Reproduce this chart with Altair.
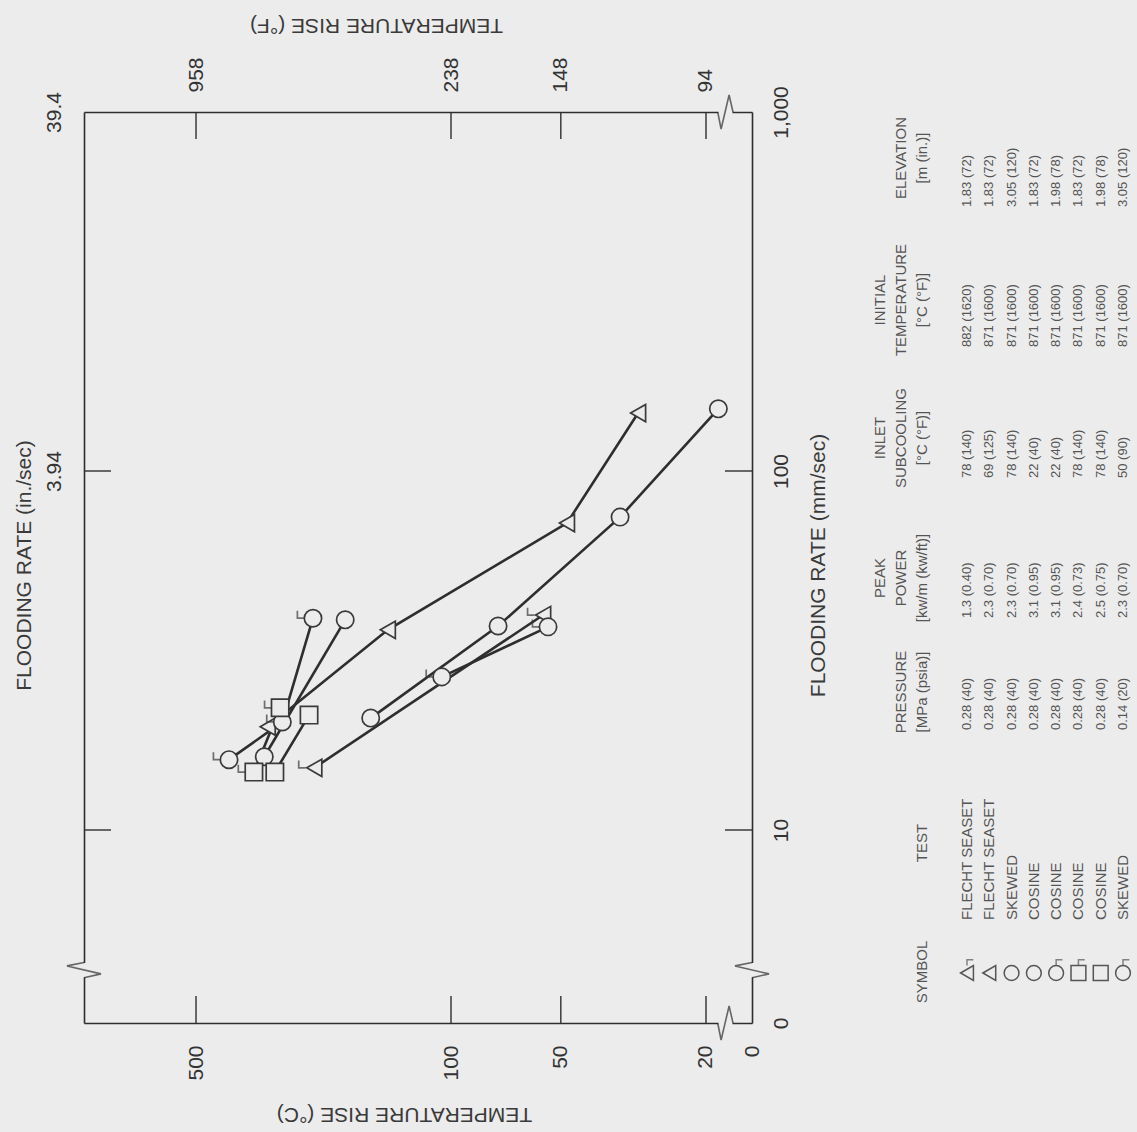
import altair as alt
import pandas as pd

BG = "#ececec"
INK = "#2e2e2e"
GREY = "#555555"
FONT = "Liberation Sans"

# ---------------- plotted series: temperature rise (deg C) vs flooding rate (mm/s) -------------
series_ids = ["A", "B", "C", "D", "E", "F", "G", "H"]
series_shape = ["triangle-left", "triangle-left", "circle", "circle", "circle", "square", "square", "circle"]
series_flag = [1, 0, 0, 0, 1, 1, 0, 1]

temp_A = [237, 55.9]
rate_A = [14.9, 39.7]
temp_B = [318, 149, 48.1, 30.7]
rate_B = [19.4, 36.1, 71.6, 145]
temp_C = [325, 195]
rate_C = [16.0, 38.5]
temp_D = [166, 74.3, 34.4, 18.5]
rate_D = [20.5, 37.0, 74.4, 149]
temp_E = [406, 290, 239]
rate_E = [15.7, 20.0, 38.9]
temp_F = [347, 294]
rate_F = [14.5, 21.9]
temp_G = [304, 245]
rate_G = [14.5, 20.9]
temp_H = [106, 54.2]
rate_H = [26.7, 36.8]

temps = [temp_A, temp_B, temp_C, temp_D, temp_E, temp_F, temp_G, temp_H]
rates = [rate_A, rate_B, rate_C, rate_D, rate_E, rate_F, rate_G, rate_H]

# ---------------- axes ----------------
temp_ticks = [500, 100, 50, 20]
temp_f_labels = ["958", "238", "148", "94"]
rate_ticks = [1000, 100, 10]
rate_in_labels = ["39.4", "3.94"]
T_LEFT, T_RIGHT = 1014, 14.96     # plot edges (right edge is the broken "0")
R_BOTTOM, R_TOP = 2.9, 1000       # bottom edge is the broken "0"
T_BREAK = 17.7
R_BREAK = 4.07

# ---------------- table ----------------
tests = ["FLECHT SEASET", "FLECHT SEASET", "SKEWED", "COSINE", "COSINE", "COSINE", "COSINE", "SKEWED"]
pressure = ["0.28 (40)", "0.28 (40)", "0.28 (40)", "0.28 (40)", "0.28 (40)", "0.28 (40)", "0.28 (40)", "0.14 (20)"]
power = ["1.3 (0.40)", "2.3 (0.70)", "2.3 (0.70)", "3.1 (0.95)", "3.1 (0.95)", "2.4 (0.73)", "2.5 (0.75)", "2.3 (0.70)"]
subcool = ["78 (140)", "69 (125)", "78 (140)", "22 (40)", "22 (40)", "78 (140)", "78 (140)", "50 (90)"]
init_temp = ["882 (1620)", "871 (1600)", "871 (1600)", "871 (1600)", "871 (1600)", "871 (1600)", "871 (1600)", "871 (1600)"]
elevation = ["1.83 (72)", "1.83 (72)", "3.05 (120)", "1.83 (72)", "1.98 (78)", "1.83 (72)", "1.98 (78)", "3.05 (120)"]

# ---------------- layout (pixels) ----------------
W, H = 668, 911
PAD_L, PAD_T = 84, 112
TICK_LEN = 27
HOOK = "M -1 0 L -1.8 0 L -1.8 -0.85"
HOOK_UP = "M 0 -1 L 0 -1.8 L 0.85 -1.8"
ZIG_H = "M -0.45 0 L -0.25 1 L 0.22 -1 L 0.45 0"
ZIG_V = "M 0 -0.45 L -1 -0.25 L 1 0.22 L 0 0.45"
MASK_H = "M -0.42 -0.12 L 0.42 -0.12 L 0.42 0.12 L -0.42 0.12 Z"
MASK_V = "M -0.12 -0.42 L 0.12 -0.42 L 0.12 0.42 L -0.12 0.42 Z"

rows = []
for sid, shp, flg, ts, rs in zip(series_ids, series_shape, series_flag, temps, rates):
    for k, (t, r) in enumerate(zip(ts, rs)):
        rows.append({"series": sid, "k": k, "T": t, "F": r, "shape": shp, "flag": flg})
df = pd.DataFrame(rows)

xs = alt.Scale(type="log", domain=[T_RIGHT, T_LEFT], reverse=True)
ys = alt.Scale(type="log", domain=[R_BOTTOM, R_TOP])


def X(axis=None):
    return alt.X("T:Q", scale=xs, axis=axis)


def Y(axis=None):
    return alt.Y("F:Q", scale=ys, axis=axis)


common_axis = dict(grid=False, ticks=False, tickSize=0, domain=True, domainColor=INK, domainWidth=1.6,
                   labelFont=FONT, labelFontSize=21, labelColor="#333333", labelOverlap=False,
                   labelBound=False, labelFlush=False, titleFont=FONT, titleFontSize=21,
                   titleFontWeight="normal", titleColor="#3a3a3a", titleAlign="center",
                   titleBaseline="middle")

ax_bottom = alt.Axis(orient="bottom", values=temp_ticks + [T_RIGHT],
                     labelExpr="datum.value < 16 ? '0' : format(datum.value, 'd')",
                     labelAngle=270, labelAlign="right", labelBaseline="middle", labelPadding=22,
                     title="TEMPERATURE RISE (°C)", titleAngle=180, titleX=320, titleY=90, **common_axis)
ax_left = alt.Axis(orient="left", values=rate_ticks[:2],
                   labelExpr="datum.value > 500 ? '%s' : '%s'" % (rate_in_labels[0], rate_in_labels[1]),
                   labelAngle=270, labelAlign="center", labelBaseline="bottom", labelPadding=20,
                   title="FLOODING RATE (in./sec)", titleAngle=270, titleX=-60, titleY=453, **common_axis)
ax_top = alt.Axis(orient="top", values=temp_ticks,
                  labelExpr="datum.value == 500 ? '%s' : datum.value == 100 ? '%s' : datum.value == 50 ? '%s' : '%s'" % tuple(temp_f_labels),
                  labelAngle=270, labelAlign="left", labelBaseline="middle", labelPadding=20,
                  title="TEMPERATURE RISE (°F)", titleAngle=180, titleX=292, titleY=-88, **common_axis)
ax_right = alt.Axis(orient="right", values=[R_BOTTOM] + rate_ticks[::-1],
                    labelExpr="datum.value < 3 ? '0' : datum.value > 500 ? '1,000' : format(datum.value, 'd')",
                    labelAngle=270, labelAlign="center", labelBaseline="top", labelPadding=18,
                    title="FLOODING RATE (mm/sec)", titleAngle=270, titleX=66, titleY=453, **common_axis)

lines = alt.Chart(df).mark_line(color=INK, strokeWidth=2.6).encode(
    x=X(ax_bottom), y=Y(ax_left), detail="series:N", order="k:Q")
axes2 = alt.Chart(df).mark_point(opacity=0).encode(x=X(ax_top), y=Y(ax_right))
markers = alt.Chart(df).mark_point(filled=True, fill=BG, fillOpacity=1, stroke="#3a3a3a",
                                   strokeWidth=1.7, size=300).encode(
    x=X(), y=Y(), shape=alt.Shape("shape:N", scale=None))
hooks = alt.Chart(df).transform_filter("datum.flag == 1").mark_point(
    shape=HOOK, filled=False, stroke="#3a3a3a", strokeWidth=1.7, size=300).encode(x=X(), y=Y())

tick_T = pd.DataFrame({"T": temp_ticks})
tick_F = pd.DataFrame({"F": rate_ticks[1:]})
tk = dict(color=INK, strokeWidth=1.4)
ticks_b = alt.Chart(tick_T).mark_rule(**tk).encode(x=X(), y=alt.value(H - TICK_LEN), y2=alt.value(H))
ticks_t = alt.Chart(tick_T).mark_rule(**tk).encode(x=X(), y=alt.value(0), y2=alt.value(TICK_LEN))
ticks_l = alt.Chart(tick_F).mark_rule(**tk).encode(y=Y(), x=alt.value(0), x2=alt.value(TICK_LEN))
ticks_r = alt.Chart(tick_F).mark_rule(**tk).encode(y=Y(), x=alt.value(W - TICK_LEN), x2=alt.value(W))

brk_T = pd.DataFrame({"T": [T_BREAK]})
brk_F = pd.DataFrame({"F": [R_BREAK]})
mk = dict(filled=True, fill=BG, fillOpacity=1, strokeWidth=0, size=1156)
zk = dict(filled=False, stroke=INK, strokeWidth=1.6, size=1156)
breaks = [
    alt.Chart(brk_T).mark_point(shape=MASK_H, **mk).encode(x=X(), y=alt.value(0)),
    alt.Chart(brk_T).mark_point(shape=MASK_H, **mk).encode(x=X(), y=alt.value(H)),
    alt.Chart(brk_F).mark_point(shape=MASK_V, **mk).encode(y=Y(), x=alt.value(0)),
    alt.Chart(brk_F).mark_point(shape=MASK_V, **mk).encode(y=Y(), x=alt.value(W)),
    alt.Chart(brk_T).mark_point(shape=ZIG_H, **zk).encode(x=X(), y=alt.value(0)),
    alt.Chart(brk_T).mark_point(shape=ZIG_H, **zk).encode(x=X(), y=alt.value(H)),
    alt.Chart(brk_F).mark_point(shape=ZIG_V, **zk).encode(y=Y(), x=alt.value(0)),
    alt.Chart(brk_F).mark_point(shape=ZIG_V, **zk).encode(y=Y(), x=alt.value(W)),
]

# ---------------- table (rotated, to the right of the plot) ----------------
tab = pd.DataFrame({"row": list(range(8)), "shape": series_shape, "flag": series_flag,
                    "test": tests, "pressure": pressure, "power": power, "subcool": subcool,
                    "init": init_temp, "elev": elevation})
row_x = alt.X("row:Q", scale=alt.Scale(domain=[0, 7], range=[967 - PAD_L, 1123 - PAD_L]), axis=None)

table_layers = []
sym_y = 973 - PAD_T
table_layers.append(alt.Chart(tab).mark_point(filled=True, fill=BG, fillOpacity=1, stroke=GREY,
                                              strokeWidth=1.5, size=220).encode(
    x=row_x, y=alt.value(sym_y), shape=alt.Shape("shape:N", scale=None)))
table_layers.append(alt.Chart(tab).transform_filter("datum.flag == 1").mark_point(
    shape=HOOK_UP, filled=False, stroke=GREY, strokeWidth=1.5, size=220).encode(x=row_x, y=alt.value(sym_y)))

value_cols = [("test", 920, 15), ("pressure", 730, 13), ("power", 618, 13), ("subcool", 478, 13),
              ("init", 347, 13), ("elev", 207, 13)]
for field, ystart, fs in value_cols:
    table_layers.append(alt.Chart(tab).mark_text(angle=270, align="left", baseline="middle", font=FONT,
                                                 fontSize=fs, color=GREY).encode(
        x=row_x, y=alt.value(ystart - PAD_T), text=f"{field}:N"))

headers = [
    (["SYMBOL"], 972), (["TEST"], 843), (["PRESSURE", "[MPa (psia)]"], 692),
    (["PEAK", "POWER", "[kw/m (kw/ft)]"], 578), (["INLET", "SUBCOOLING", "[°C (°F)]"], 438),
    (["INITIAL", "TEMPERATURE", "[°C (°F)]"], 300), (["ELEVATION", "[m (in.)]"], 158),
]
line_x = [922, 901, 880]
for lines_txt, yc in headers:
    for j, txt in enumerate(reversed(lines_txt)):
        table_layers.append(alt.Chart(pd.DataFrame({"t": [txt]})).mark_text(
            angle=270, align="center", baseline="middle", font=FONT, fontSize=15, color=GREY).encode(
            x=alt.value(line_x[j] - PAD_L), y=alt.value(yc - PAD_T), text="t:N"))

chart = alt.layer(lines, axes2, ticks_b, ticks_t, ticks_l, ticks_r, *breaks, markers, hooks,
                  *table_layers).resolve_scale(x="independent", y="independent").properties(
    width=W, height=H,
    padding={"left": PAD_L, "top": PAD_T, "right": 1137 - PAD_L - W, "bottom": 1132 - PAD_T - H},
    autosize=alt.AutoSizeParams(type="none"),
).configure(background=BG).configure_view(stroke=None)

chart.save("out.html", embed_options={"renderer": "svg", "actions": False})
